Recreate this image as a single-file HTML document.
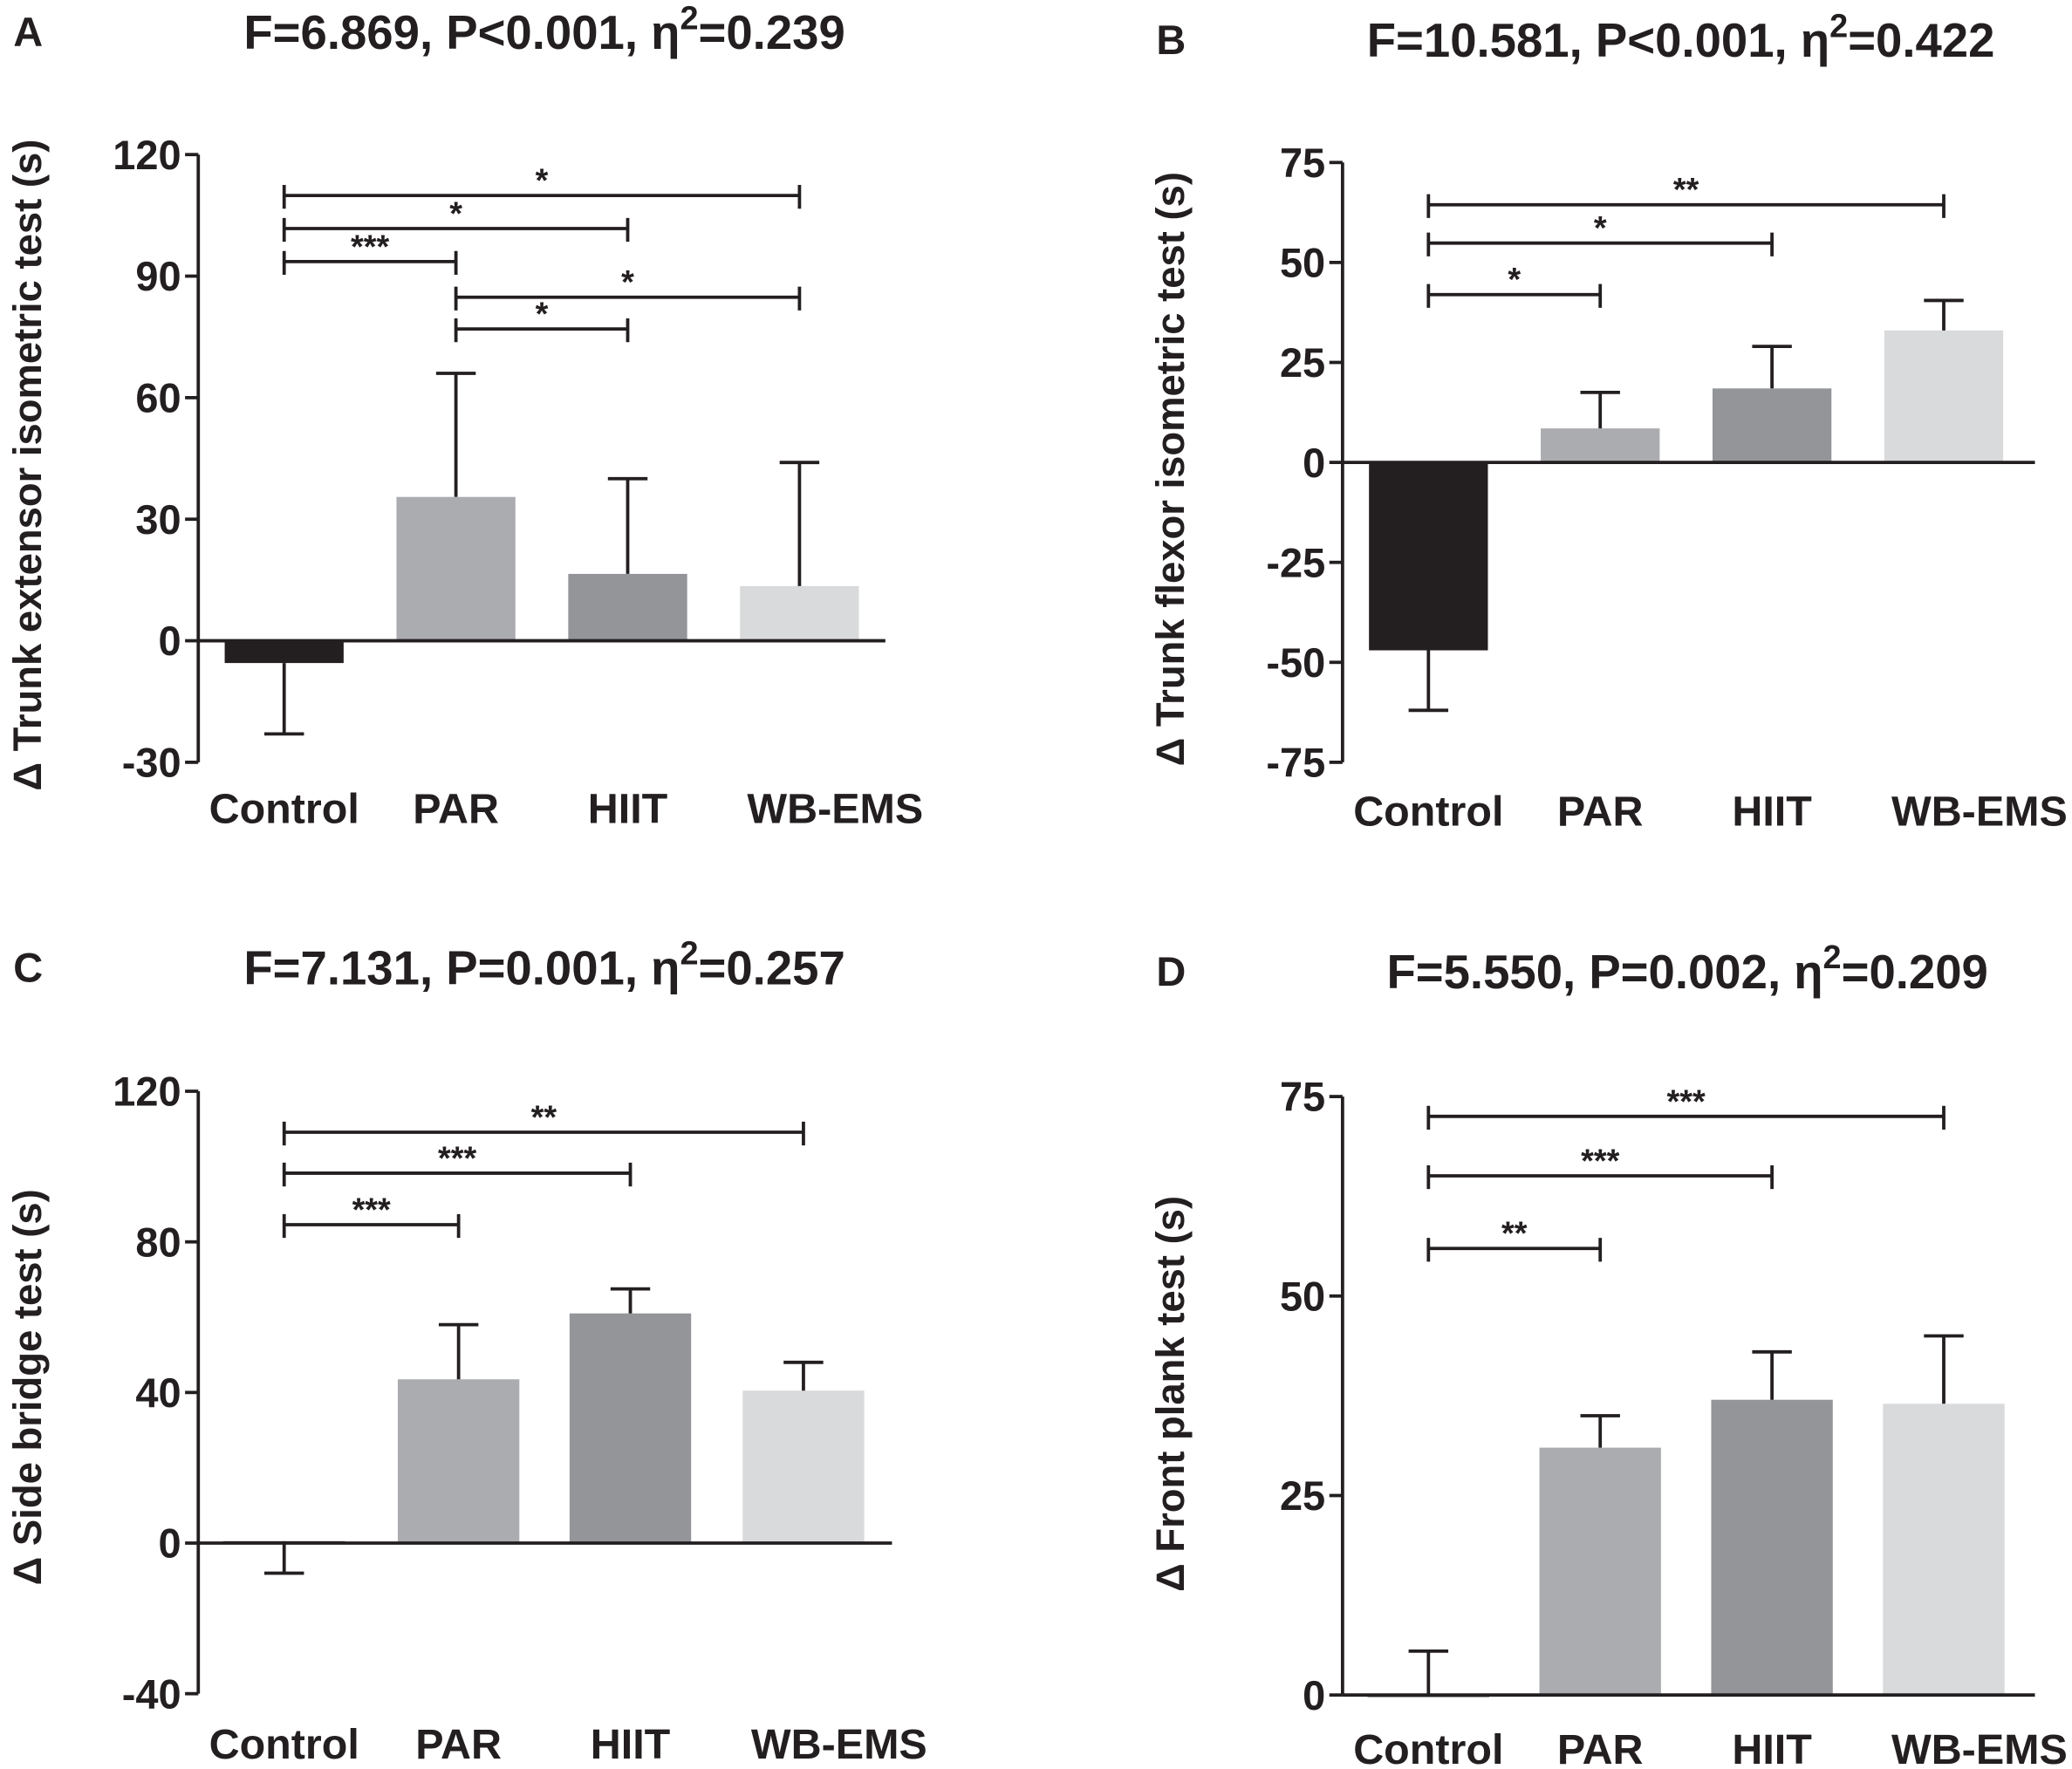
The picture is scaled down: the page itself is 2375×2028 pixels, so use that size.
<!DOCTYPE html>
<html><head><meta charset="utf-8"><style>
html,body{margin:0;padding:0;background:#fff;}
svg{display:block;}
text{font-family:"Liberation Sans",Arial,sans-serif;font-weight:bold;fill:#231f20;}
</style></head><body>
<svg id="fig" width="2375" height="2028" viewBox="0 0 1568 1339" xmlns="http://www.w3.org/2000/svg"></svg>
<script>
const categories = ["Control","PAR","HIIT","WB-EMS"];
const colors = ["#231f20","#abacb0","#939598","#d9dadb"];
const valuesA = [-5.5, 35.5, 16.5, 13.5];
const errA = [-23, 66, 40, 44];
const valuesB = [-47, 8.5, 18.5, 33];
const errB = [-62, 17.5, 29, 40.5];
const valuesC = [0.5, 43.5, 61, 40.5];
const errC = [-8, 58, 67.5, 48];
const valuesD = [0, 31, 37, 36.5];
const errD = [5.5, 35, 43, 45];
const ticksA = [-30,0,30,60,90,120];
const ticksB = [-75,-50,-25,0,25,50,75];
const ticksC = [-40,0,40,80,120];
const ticksD = [0,25,50,75];
const sigA = [[0,3,"*"],[0,2,"*"],[0,1,"***"],[1,3,"*"],[1,2,"*"]];
const sigB = [[0,3,"**"],[0,2,"*"],[0,1,"*"]];
const sigC = [[0,3,"**"],[0,2,"***"],[0,1,"***"]];
const sigD = [[0,3,"***"],[0,2,"***"],[0,1,"**"]];
const labelShift = [0,0,0,27];

const panels = [
 {id:"a",letter:"A",title:"F=6.869, P<0.001, η",eta:"=0.239",ytitle:"Δ Trunk extensor isometric test (s)",
  ax:150,xEnd:670,y0:485,yTopV:120,yTopPx:117,min:-30,ticks:ticksA,vals:valuesA,errs:errA,sig:sigA,
  sigY:[148,173,198,225,249],centers:[215,345,475,605],bw:90,tx:412,ty:37,lx:10,catY:623,ytX:31,ytY:352},
 {id:"b",letter:"B",title:"F=10.581, P<0.001, η",eta:"=0.422",ytitle:"Δ Trunk flexor isometric test (s)",
  ax:1016,xEnd:1540,y0:350,yTopV:75,yTopPx:123,min:-75,ticks:ticksB,vals:valuesB,errs:errB,sig:sigB,
  sigY:[155,184,223],centers:[1081,1211,1341,1471],bw:90,tx:1272,ty:43,lx:875,catY:625,ytX:896,ytY:355},
 {id:"c",letter:"C",title:"F=7.131, P=0.001, η",eta:"=0.257",ytitle:"Δ Side bridge test (s)",
  ax:150,xEnd:675,y0:1168,yTopV:120,yTopPx:826,min:-40,ticks:ticksC,vals:valuesC,errs:errC,sig:sigC,
  sigY:[857,888,927],centers:[215,347,477,608],bw:92,tx:412,ty:745,lx:10,catY:1331,ytX:31,ytY:1050},
 {id:"d",letter:"D",title:"F=5.550, P=0.002, η",eta:"=0.209",ytitle:"Δ Front plank test (s)",
  ax:1016,xEnd:1540,y0:1283,yTopV:75,yTopPx:830,min:0,ticks:ticksD,vals:valuesD,errs:errD,sig:sigD,
  sigY:[845,890,945],centers:[1081,1211,1341,1471],bw:92,tx:1277,ty:748,lx:875,catY:1335,ytX:896,ytY:1055}
];
const NS="http://www.w3.org/2000/svg";
const svg=document.getElementById("fig");
function mk(tag,attrs,parent,txt){const e=document.createElementNS(NS,tag);for(const k in attrs)e.setAttribute(k,attrs[k]);if(txt!==undefined)e.textContent=txt;parent.appendChild(e);return e;}
panels.forEach(p=>{
 const g=mk("g",{},svg);
 
 
 const y=v=>p.y0-(v)*(p.y0-p.yTopPx)/p.yTopV;
 const L=mk("text",{x:p.lx,y:p.ty-2,"font-size":31},g,p.letter);
 
 
 const t=mk("text",{x:p.tx,y:p.ty,"font-size":36,"text-anchor":"middle"},g);
 
 
 const s1=document.createElementNS(NS,"tspan");s1.textContent=p.title;t.appendChild(s1);
 const s2=document.createElementNS(NS,"tspan");s2.setAttribute("dy","-15");s2.setAttribute("font-size","25");s2.textContent="2";t.appendChild(s2);
 const s3=document.createElementNS(NS,"tspan");s3.setAttribute("dy","15");s3.textContent=p.eta;t.appendChild(s3);
 const yt=mk("text",{x:0,y:0,"font-size":30,"text-anchor":"middle",transform:`translate(${p.ytX},${p.ytY}) rotate(-90)`},g,p.ytitle);
 
 
 p.vals.forEach((v,i)=>{
  const c=p.centers[i],top=Math.min(y(v),y(0)),h=Math.abs(y(v)-y(0));
  const r=mk("rect",{x:c-p.bw/2,y:top,width:p.bw,height:Math.max(h,1.5),fill:colors[i]},g);
  
  
  const ey=y(p.errs[i]),by=y(v);
  const e=mk("path",{d:`M${c},${by}V${ey}M${c-15},${ey}H${c+15}`,stroke:"#231f20","stroke-width":2.5,fill:"none"},g);
  
  
  const cl=mk("text",{x:c+labelShift[i],y:p.catY,"font-size":32,"text-anchor":"middle"},g,categories[i]);
  
  
 });
 const yb=y(p.min);
 const ya=mk("line",{x1:p.ax,y1:p.yTopPx,x2:p.ax,y2:yb,stroke:"#231f20","stroke-width":2.5},g);
 
 
 const xa=mk("line",{x1:p.ax,y1:p.y0,x2:p.xEnd,y2:p.y0,stroke:"#231f20","stroke-width":2.5},g);
 
 
 p.ticks.forEach(v=>{
  mk("line",{x1:p.ax-10,y1:y(v),x2:p.ax,y2:y(v),stroke:"#231f20","stroke-width":2.5},g);
  const tl=mk("text",{x:p.ax-13,y:y(v)+11,"font-size":31,"text-anchor":"end"},g,v);
  
  
 });
 p.sig.forEach((s,k)=>{
  const yy=p.sigY[k],x1=p.centers[s[0]],x2=p.centers[s[1]];
  const br=mk("path",{d:`M${x1},${yy-8}V${yy+10}M${x1},${yy}H${x2}M${x2},${yy-8}V${yy+10}`,stroke:"#231f20","stroke-width":2.5,fill:"none"},g);
  
  
  const st=mk("text",{x:(x1+x2)/2,y:yy-3,"font-size":25,"text-anchor":"middle"},g,s[2]);
  
  
 });
});
</script>
</body></html>
